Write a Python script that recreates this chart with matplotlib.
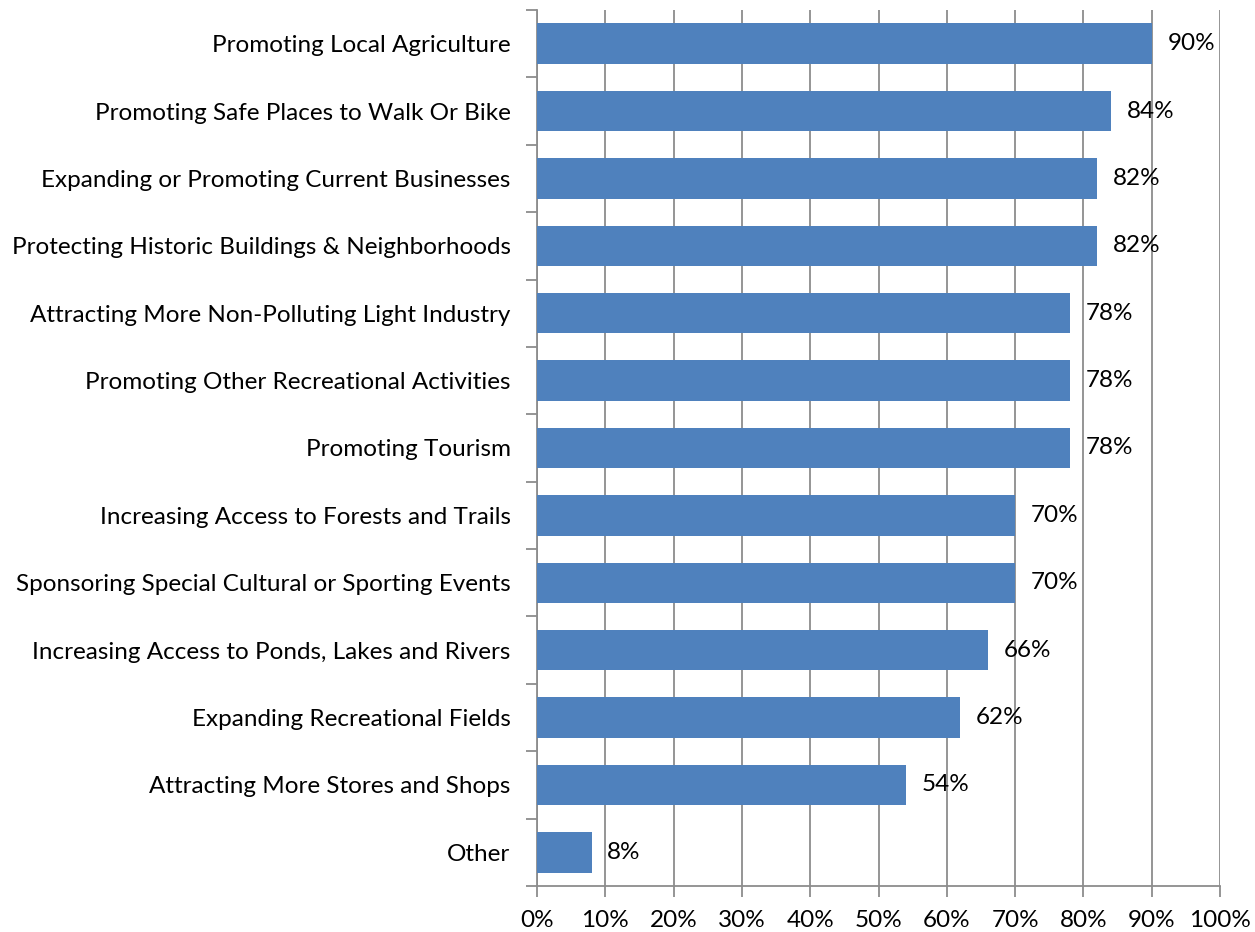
import matplotlib
matplotlib.use("Agg")
import matplotlib.pyplot as plt
from matplotlib.ticker import FixedLocator, PercentFormatter

categories = [
    "Promoting Local Agriculture",
    "Promoting Safe Places to Walk Or Bike",
    "Expanding or Promoting Current Businesses",
    "Protecting Historic Buildings & Neighborhoods",
    "Attracting More Non-Polluting Light Industry",
    "Promoting Other Recreational Activities",
    "Promoting Tourism",
    "Increasing Access to Forests and Trails",
    "Sponsoring Special Cultural or Sporting Events",
    "Increasing Access to Ponds, Lakes and Rivers",
    "Expanding Recreational Fields",
    "Attracting More Stores and Shops",
    "Other",
]
values = [90, 84, 82, 82, 78, 78, 78, 70, 70, 66, 62, 54, 8]
xticks = [0, 10, 20, 30, 40, 50, 60, 70, 80, 90, 100]

plt.rcParams['font.family'] = ['Lato', 'DejaVu Sans']

fig = plt.figure(figsize=(12.55, 9.32), dpi=100)
ax = fig.add_axes([537/1255, 46/932, (1220-537)/1255, (886-10)/932])

n = len(categories)
ypos = list(range(n))[::-1]
ax.barh(ypos, values, height=0.6, color="#4F81BD", zorder=3)
for y, v in zip(ypos, values):
    ax.text(v + 2.3, y, f"{v}%", va="center", ha="left", fontsize=17.5, color="black", zorder=4)

ax.set_xlim(0, 100)
ax.set_ylim(-0.5, n - 0.5)
ax.set_xticks(xticks)
ax.xaxis.set_major_formatter(PercentFormatter(decimals=0))
ax.set_yticks(ypos)
ax.set_yticklabels(categories)
ax.yaxis.set_minor_locator(FixedLocator([i - 0.5 for i in range(n + 1)]))

ax.grid(axis="x", color="#8c8c8c", linewidth=1.3, zorder=0)
for s in ["top", "right"]:
    ax.spines[s].set_visible(False)
for s in ["left", "bottom"]:
    ax.spines[s].set_color("#8c8c8c")
    ax.spines[s].set_linewidth(1.3)

ax.tick_params(axis="y", which="major", length=0, pad=19, labelsize=17.5)
ax.tick_params(axis="y", which="minor", length=8, width=1.3, color="#8c8c8c")
ax.tick_params(axis="x", which="major", length=8, width=1.3, color="#8c8c8c", pad=9, labelsize=17.5)

fig.savefig("out.png", dpi=100)
